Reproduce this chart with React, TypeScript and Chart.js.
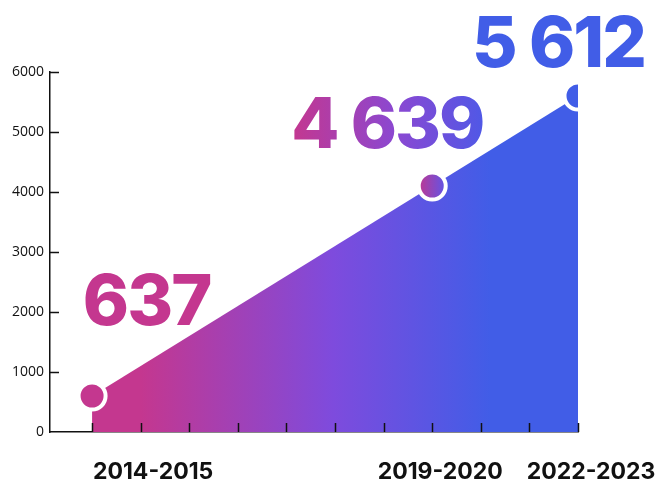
import React, { useEffect, useRef } from "react";
import { Chart, registerables } from "chart.js";

Chart.register(...registerables);

// ---- data ----
const periods = ["2014-2015", "2019-2020", "2022-2023"];
const periodIndex = [0, 7, 10]; // position on the x axis (tick index)
const values = [600, 4100, 5600]; // plotted values as drawn
const valueLabels = ["637", "4 639", "5 612"];
const xTickIndices = [0, 1, 2, 3, 4, 5, 6, 7, 8, 9, 10];
const yTickValues = [0, 1000, 2000, 3000, 4000, 5000, 6000];

// ---- styles ----
const MAGENTA = "#C4378F";
const PURPLE = "#7E4BDD";
const BLUE = "#415DE7";
const INK = "#111111";
const BIG_FONT = "800 70px Inter, 'Open Sans', sans-serif";
const PERIOD_FONT = "700 23px Inter, 'Open Sans', sans-serif";
// label placement relative to point (style only)
const valueLabelOffsets = [
  { dx: 54.5, dy: -71 },
  { dx: -45, dy: -38 },
  { dx: -19.5, dy: -29 },
];
const periodLabelOffsets = [61, 8, 13];

function areaGradient(chart: any) {
  const { ctx, chartArea, scales } = chart;
  if (!chartArea) return MAGENTA;
  const x0 = scales.x.getPixelForValue(1);
  const x1 = scales.x.getPixelForValue(8.2);
  const g = ctx.createLinearGradient(x0, 0, x1, 0);
  g.addColorStop(0, MAGENTA);
  g.addColorStop(0.55, PURPLE);
  g.addColorStop(1, BLUE);
  return g;
}

const decorPlugin = {
  id: "decor",
  afterDatasetsDraw(chart: any) {
    const { ctx, chartArea, scales } = chart;
    const xs = scales.x;
    const ys = scales.y;
    ctx.save();
    // inward tick marks
    ctx.strokeStyle = INK;
    ctx.lineWidth = 1.5;
    ctx.beginPath();
    xTickIndices.forEach((i) => {
      const px = Math.round(xs.getPixelForValue(i)) + 0.5;
      ctx.moveTo(px, chartArea.bottom);
      ctx.lineTo(px, chartArea.bottom - 9);
    });
    yTickValues.forEach((v) => {
      if (v === 0) return;
      const py = Math.round(ys.getPixelForValue(v)) + 0.5;
      ctx.moveTo(chartArea.left, py);
      ctx.lineTo(chartArea.left + 9, py);
    });
    ctx.stroke();
    ctx.restore();
  },
  afterDraw(chart: any) {
    const { ctx } = chart;
    const meta = chart.getDatasetMeta(0);
    ctx.save();
    // big value labels
    ctx.font = BIG_FONT;
    (ctx as any).letterSpacing = "-2px";
    ctx.textAlign = "center";
    ctx.textBaseline = "alphabetic";
    valueLabels.forEach((label, i) => {
      const pt = meta.data[i];
      if (!pt) return;
      const cx = pt.x + valueLabelOffsets[i].dx;
      const cy = pt.y + valueLabelOffsets[i].dy;
      const w = ctx.measureText(label).width;
      let fill: any = MAGENTA;
      if (i === 1) {
        const g = ctx.createLinearGradient(cx - w / 2, 0, cx + w / 2, 0);
        g.addColorStop(0, MAGENTA);
        g.addColorStop(0.55, "#8A48D2");
        g.addColorStop(1, "#5058E6");
        fill = g;
      } else if (i === 2) {
        fill = BLUE;
      }
      ctx.fillStyle = fill;
      ctx.fillText(label, cx, cy);
    });
    // period labels under the axis
    (ctx as any).letterSpacing = "0px";
    ctx.font = PERIOD_FONT;
    ctx.fillStyle = INK;
    periods.forEach((p, i) => {
      const px = chart.scales.x.getPixelForValue(periodIndex[i]) + periodLabelOffsets[i];
      ctx.fillText(p, px, 479);
    });
    ctx.restore();
  },
};

export default function App() {
  const canvasRef = useRef<HTMLCanvasElement | null>(null);

  useEffect(() => {
    if (!canvasRef.current) return;
    const chart = new Chart(canvasRef.current, {
      type: "line",
      data: {
        datasets: [
          {
            data: periodIndex.map((x, i) => ({ x, y: values[i] })),
            fill: "origin",
            tension: 0,
            borderWidth: 0,
            borderColor: "rgba(0,0,0,0)",
            backgroundColor: (c: any) => areaGradient(c.chart),
            pointRadius: 13.5,
            pointBorderWidth: 4,
            pointBorderColor: "#ffffff",
            pointBackgroundColor: (c: any) => {
              const i = c.dataIndex;
              if (i === 0) return MAGENTA;
              if (i === 2) return BLUE;
              const chart = c.chart;
              if (!chart.chartArea) return PURPLE;
              const px = chart.scales.x.getPixelForValue(periodIndex[i]);
              const g = chart.ctx.createLinearGradient(px - 12, 0, px + 12, 0);
              g.addColorStop(0, "#B83A98");
              g.addColorStop(1, "#6553E2");
              return g;
            },
          } as any,
        ],
      },
      options: {
        responsive: false,
        animation: false,
        layout: { padding: { top: 72, right: 78, bottom: 0, left: 0 } },
        plugins: { legend: { display: false }, tooltip: { enabled: false } },
        scales: {
          x: {
            type: "linear",
            min: -0.866,
            max: 10,
            grid: { display: false, drawTicks: false },
            border: { display: true, color: INK, width: 1.5 },
            ticks: { display: false },
            afterFit: (s: any) => {
              s.height = 47;
            },
          },
          y: {
            min: 0,
            max: 6000,
            grid: { display: false, drawTicks: false },
            border: { display: true, color: INK, width: 1.5 },
            afterBuildTicks: (s: any) => {
              s.ticks = yTickValues.map((v) => ({ value: v }));
            },
            ticks: {
              padding: 6,
              color: INK,
              font: { family: "'Open Sans', sans-serif", size: 14 },
              callback: (v: any) => String(v),
            },
            afterFit: (s: any) => {
              s.width = 50;
            },
          },
        },
      },
      plugins: [decorPlugin],
    });
    return () => chart.destroy();
  }, []);

  return (
    <div style={{ position: "absolute", left: 0, top: 0, width: 656, height: 479, background: "#fff" }}>
      <canvas ref={canvasRef} width={656} height={479} style={{ display: "block" }} />
    </div>
  );
}
